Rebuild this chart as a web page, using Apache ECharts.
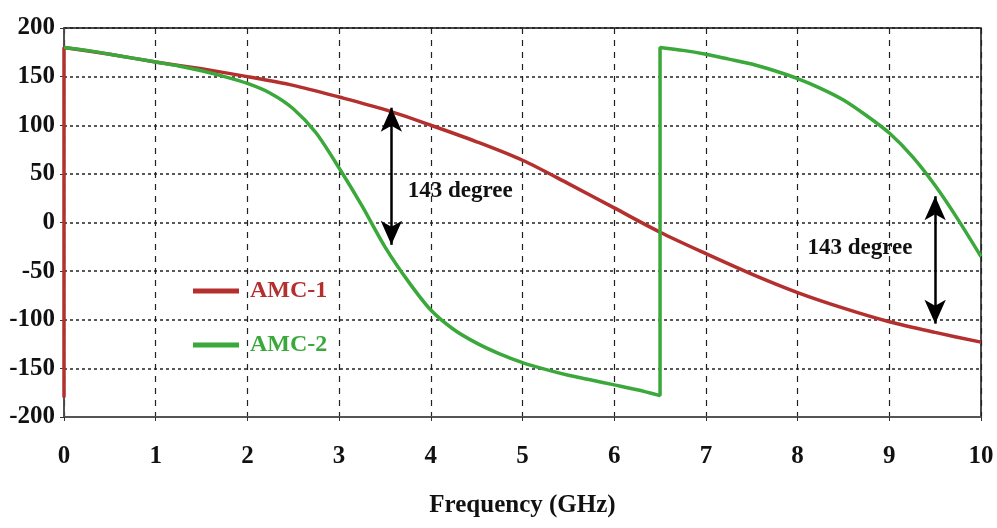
<!DOCTYPE html>
<html>
<head>
<meta charset="utf-8">
<script src="https://cdn.jsdelivr.net/npm/echarts@6/dist/echarts.min.js"></script>
<style>
  html, body { margin: 0; padding: 0; background: #fff; }
  #chart { width: 997px; height: 528px; }
</style>
</head>
<body>
<div id="chart"></div>
<script>
// AMC-1 phase (degrees) vs frequency (GHz); first point is the wrap at 0 GHz
const amc1Freq = [0, 0, 0.5, 1, 1.5, 2, 2.5, 3, 3.5, 4, 4.5, 5, 5.5, 6, 6.5, 7, 7.5, 8, 8.5, 9, 9.5, 10]
const amc1Phase = [-180, 180, 173, 165, 158, 150, 141, 129, 116, 100, 83, 64, 40, 15, -10, -32, -53, -72, -88, -102, -113, -123]

// AMC-2 phase, jumps from -180 to +180 at 6.5 GHz
const amc2Freq = [0, 0.25, 0.5, 0.75, 1, 1.25, 1.5, 1.75, 2, 2.25, 2.5, 2.75, 3, 3.25, 3.5, 3.75, 4, 4.25, 4.5, 4.75, 5, 5.25, 5.5, 5.75, 6, 6.25, 6.5,
  6.5, 6.75, 7, 7.25, 7.5, 7.75, 8, 8.25, 8.5, 8.75, 9, 9.25, 9.5, 9.75, 10]
const amc2Phase = [180, 177, 173, 169, 165, 161, 156, 150, 143, 133, 117, 92, 56, 17, -25, -60, -90, -110, -124, -135, -144, -151, -157, -162, -167, -172, -178,
  180, 177, 173, 168, 163, 156, 148, 138, 126, 110, 92, 68, 38, 3, -35]

// double arrows: [freq, top, bottom] and their labels: [freq, phase, text]
const arrows = [[3.57, 118, -23], [9.5, 27, -104]]
const arrowLabels = [[4.32, 32, "143 degree"], [8.68, -26, "143 degree"]]

const red = "#b3302e"
const green = "#3aa83a"
const serif = "Liberation Serif"

const chart = echarts.init(document.getElementById("chart"))

chart.setOption({
  animation: false,
  grid: {
    left: 64, right: 16, top: 28, bottom: 111,
    show: true, borderColor: "#111", borderWidth: 1.5, backgroundColor: "#fff"
  },
  legend: {
    orient: "vertical",
    left: 188,
    top: 274,
    itemGap: 30,
    itemWidth: 46,
    itemHeight: 5,
    icon: "rect",
    textStyle: { fontFamily: serif, fontWeight: "bold", fontSize: 24, padding: [0, 0, 0, 6] },
    data: [
      { name: "AMC-1", textStyle: { color: red } },
      { name: "AMC-2", textStyle: { color: green } }
    ]
  },
  xAxis: {
    type: "value",
    min: 0,
    max: 10,
    interval: 1,
    name: "Frequency (GHz)",
    nameLocation: "middle",
    nameGap: 76,
    nameTextStyle: { fontFamily: serif, fontWeight: "bold", fontSize: 25, color: "#111" },
    axisLine: { show: true, onZero: false, lineStyle: { color: "#555", width: 2 } },
    axisTick: { show: true, length: 4, lineStyle: { color: "#333" } },
    axisLabel: { fontFamily: serif, fontWeight: "bold", fontSize: 25, color: "#111", margin: 27 },
    splitLine: { show: true, lineStyle: { color: "#222", type: [6, 6], width: 1.2 } }
  },
  yAxis: {
    type: "value",
    min: -200,
    max: 200,
    interval: 50,
    axisLine: { show: true, onZero: false, lineStyle: { color: "#555", width: 1.5 } },
    axisTick: { show: true, length: 4, lineStyle: { color: "#333" } },
    axisLabel: { fontFamily: serif, fontWeight: "bold", fontSize: 25, color: "#111", margin: 9 },
    splitLine: { show: true, lineStyle: { color: "#222", type: [3, 3], width: 1.5 } }
  },
  series: [
    {
      name: "AMC-1",
      type: "line",
      color: red,
      showSymbol: false,
      smooth: 0.3,
      lineStyle: { width: 3.5, color: red },
      data: amc1Freq.map((f, i) => [f, amc1Phase[i]]),
      markLine: {
        silent: true,
        symbol: ["arrow", "arrow"],
        symbolSize: [16, 24],
        label: { show: false },
        lineStyle: { color: "#000", width: 2.5, type: "solid" },
        data: arrows.map(a => [{ coord: [a[0], a[1]] }, { coord: [a[0], a[2]] }])
      },
      markPoint: {
        silent: true,
        symbolSize: 0,
        label: {
          show: true,
          fontFamily: serif,
          fontWeight: "bold",
          fontSize: 23,
          color: "#111",
          formatter: p => p.name
        },
        data: arrowLabels.map(l => ({ coord: [l[0], l[1]], name: l[2] }))
      }
    },
    {
      name: "AMC-2",
      type: "line",
      color: green,
      showSymbol: false,
      smooth: 0.25,
      lineStyle: { width: 3.5, color: green },
      data: amc2Freq.map((f, i) => [f, amc2Phase[i]])
    }
  ]
})
</script>
</body>
</html>
